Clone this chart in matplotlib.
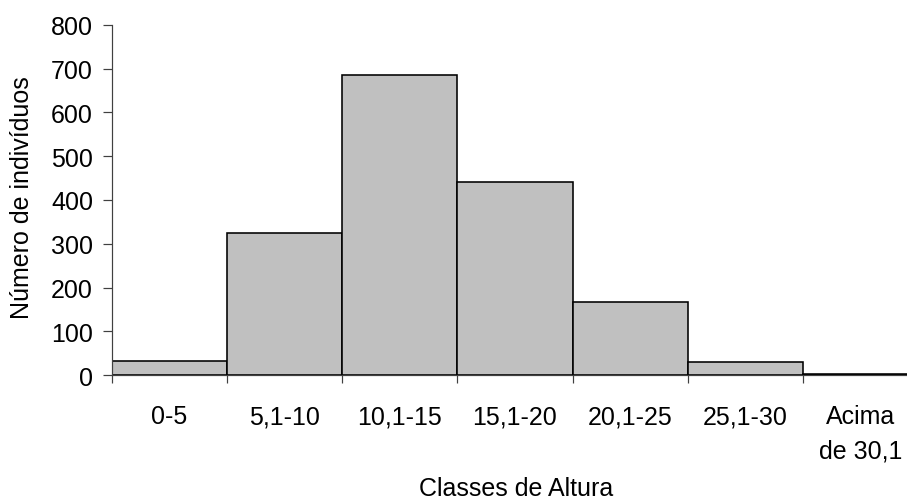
import matplotlib
matplotlib.use("Agg")
import matplotlib.pyplot as plt
import numpy as np

plt.rcParams['font.family'] = ['Liberation Sans', 'DejaVu Sans']

categories = ["0-5", "5,1-10", "10,1-15", "15,1-20", "20,1-25", "25,1-30", "Acima\nde 30,1"]
counts = [32, 325, 686, 442, 168, 31, 3]
yticks = [0, 100, 200, 300, 400, 500, 600, 700, 800]

W, H = 907, 502
PX = 72 / 100  # points per pixel at dpi 100
FS = 18

fig = plt.figure(figsize=(W / 100, H / 100), dpi=100)
ax = fig.add_axes([112 / W, 1 - 376.3 / H, (918 - 112) / W, (376.3 - 25.7) / H])

x = np.arange(len(categories))
ax.bar(x, counts, width=1.0, color="#c0c0c0", edgecolor="black", linewidth=1.6 * PX, zorder=2)

ax.set_xlim(-0.5, len(categories) - 0.5)
ax.set_ylim(0, 800)
ax.set_yticks(yticks)
ax.set_yticklabels([str(v) for v in yticks], fontsize=FS)

# boundary ticks below the axis, labels centered on each class
ax.set_xticks(np.arange(len(categories) + 1) - 0.5)
ax.set_xticklabels([])
ax.set_xticks(x, minor=True)
ax.set_xticklabels(categories, minor=True, fontsize=FS, va="top")
for lbl in ax.get_xticklabels(minor=True):
    lbl.set_linespacing(1.55)
ax.tick_params(axis="x", which="minor", length=0, pad=29 * PX)
ax.tick_params(axis="x", which="major", length=8 * PX, width=1.2 * PX, color="#404040", direction="out")
ax.tick_params(axis="y", length=9 * PX, width=1.2 * PX, color="#404040", direction="out", pad=10 * PX)

for side in ("top", "right"):
    ax.spines[side].set_visible(False)
for side in ("left", "bottom"):
    ax.spines[side].set_color("#404040")
    ax.spines[side].set_linewidth(1.2 * PX)

fig.text(22 / W, 1 - 198 / H, "Número de indivíduos", rotation=90,
         ha="center", va="center", fontsize=FS)
fig.text(516 / W, 1 - 501 / H, "Classes de Altura", ha="center", va="bottom", fontsize=FS)

fig.savefig("out.png", dpi=100)
